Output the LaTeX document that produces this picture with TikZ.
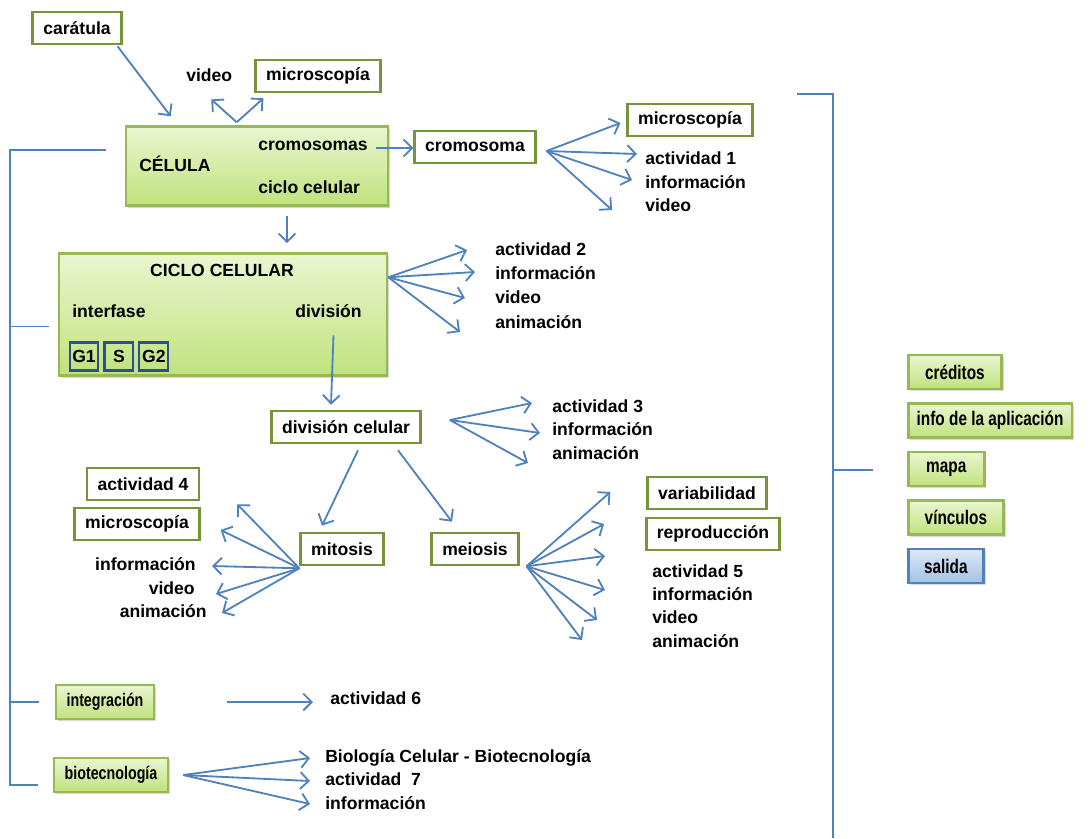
\documentclass[tikz,border=0pt]{standalone}
\usepackage{fontspec}
\setmainfont{Liberation Sans}
\newfontfamily\narrowsans[FakeStretch = 0.78]{Liberation Sans}
\usepackage{tikz}
\usetikzlibrary{
	arrows.meta,
	calc,
	positioning,
	shadows
}

\definecolor{linkgreen}{RGB}{119,147,60}
\definecolor{menugreen}{RGB}{150,185,85}
\definecolor{linkblue}{RGB}{79,129,189}
\definecolor{phaseblue}{RGB}{45,78,145}
\definecolor{greentop}{RGB}{234,246,208}
\definecolor{greenbot}{RGB}{192,226,125}
\definecolor{bluetop}{RGB}{222,233,247}
\definecolor{bluebot}{RGB}{163,192,228}

\begin{document}
\begin{tikzpicture} [
		x = 0.025cm,
		y = -0.025cm,
		font = \fontsize{12.5}{14}\selectfont\bfseries,
		entry/.style = {
			inner sep = 0pt,
			anchor = west,
			text height = 9pt,
			text depth = 2.5pt,
		},
		linkbox/.style = {
			rectangle,
			draw = linkgreen,
			line width = 1.8pt,
			fill = white,
			minimum height = 0.8cm,
			inner xsep = 7.5pt,
		},
		menubox/.style = {
			rectangle,
			draw = menugreen,
			line width = 1.8pt,
			top color = greentop,
			bottom color = greenbot,
			minimum height = 0.85cm,
			inner xsep = 7.5pt,
			font = \narrowsans\fontsize{13}{15}\selectfont\bfseries,
			drop shadow = {opacity = 0.3, shadow xshift = 1.5pt, shadow yshift = -1.5pt},
		},
		sidebox/.style = {
			menubox,
			font = \narrowsans\fontsize{14}{16}\selectfont\bfseries,
			inner xsep = 6pt,
			anchor = west,
		},
		exitbox/.style = {
			sidebox,
			draw = linkblue,
			top color = bluetop,
			bottom color = bluebot,
		},
		phasebox/.style = {
			rectangle,
			draw = phaseblue,
			line width = 1.5pt,
			minimum width = 0.72cm,
			minimum height = 0.7cm,
			inner sep = 1pt,
		},
		conn/.style = {
			draw = linkblue,
			line width = 1.3pt,
			-{Straight Barb[length = 6pt, width = 12pt]},
		},
		bracket/.style = {
			draw = linkblue,
			line width = 1.3pt,
		},
	]
	\useasboundingbox (0,0) rectangle (1090,838);

	% cell
	\node[linkbox] (carat) at (77,28) {carátula};
	\node[entry] (vid0) at (186,77) {video};
	\node[linkbox] (micro0) at (318,76) {microscopía};

	\node[menubox, minimum width = 6.55cm, minimum height = 1.975cm] (celula) at (257,166) {};
	\node[entry] (celname) at (139,167) {CÉLULA};
	\node[entry] (cromos) at (258,146) {cromosomas};
	\node[entry] (ciclotxt) at (258,189) {ciclo celular};

	\node[linkbox] (cromo) at (475,147) {cromosoma};
	\node[linkbox] (micro1) at (690,120) {microscopía};
	\node[entry] (act1) at (645,160) {actividad 1};
	\node[entry] (info1) at (645,184) {información};
	\node[entry] (vid1) at (645,207) {video};

	% cell cycle
	\node[menubox, minimum width = 8.2cm, minimum height = 3.05cm] (ciclo) at (223,314.5) {};
	\node (ciclotitle) at (222,270) {CICLO CELULAR};
	\node[entry] (interf) at (72,313) {interfase};
	\node[entry] (divis) at (295,313) {división};
	\node[phasebox] (g1) at (84,356.5) {G1};
	\node[phasebox, right = 0.1cm of g1] (s) {S};
	\node[phasebox, right = 0.1cm of s] (g2) {G2};

	\node[entry] (act2) at (495,251) {actividad 2};
	\node[entry] (info2) at (495,275) {información};
	\node[entry] (vid2) at (495,299) {video};
	\node[entry] (anim2) at (495,324) {animación};

	% cell division
	\node[linkbox] (divcel) at (346,427) {división celular};
	\node[entry] (act3) at (552,408) {actividad 3};
	\node[entry] (info3) at (552,431) {información};
	\node[entry] (anim3) at (552,455) {animación};

	\node[linkbox] (mitosis) at (342,549) {mitosis};
	\node[linkbox] (meiosis) at (475,549) {meiosis};

	\node[linkbox] (act4) at (143,484) {actividad 4};
	\node[linkbox] (micro4) at (137,524) {microscopía};
	\node[entry, anchor = east] (info4) at (196,566) {información};
	\node[entry, anchor = east] (vid4) at (195,590) {video};
	\node[entry, anchor = east] (anim4) at (207,613) {animación};

	\node[linkbox] (variab) at (707,493) {variabilidad};
	\node[linkbox] (reprod) at (713,534) {reproducción};
	\node[entry] (act5) at (652,573) {actividad 5};
	\node[entry] (info5) at (652,596) {información};
	\node[entry] (vid5) at (652,619) {video};
	\node[entry] (anim5) at (652,643) {animación};

	% integration and biotech
	\node[menubox] (integr) at (105,702) {integración};
	\node[entry] (act6) at (330,700) {actividad 6};

	\node[menubox] (biotec) at (111,775) {biotecnología};
	\node[entry] (bio1) at (325,758) {Biología Celular - Biotecnología};
	\node[entry] (act7) at (325,781) {actividad\ \ 7};
	\node[entry] (info7) at (325,805) {información};

	% side menu
	\node[sidebox, minimum width = 2.33cm] (creditos) at (907,372) {créditos};
	\node[sidebox, below = 0.3cm of creditos.south west, anchor = north west] (infoapp) {info de la aplicación};
	\node[sidebox, minimum width = 1.9cm, below = 0.3cm of infoapp.south west, anchor = north west] (mapa) {mapa};
	\node[sidebox, minimum width = 2.38cm, below = 0.3cm of mapa.south west, anchor = north west] (vinculos) {vínculos};
	\node[exitbox, minimum width = 1.88cm, below = 0.3cm of vinculos.south west, anchor = north west] (salida) {salida};

	\coordinate (celTop) at ($(celula.north west)+(112,-3)$);
	\coordinate (cromoFan) at ($(cromo.east)+(10,4)$);
	\coordinate (cicloFan) at ($(ciclo.north east)+(0,25)$);
	\coordinate (divFan) at ($(divcel.east)+(28,-7)$);
	\coordinate (mitFan) at ($(mitosis.south west)+(0,2)$);
	\coordinate (meiFan) at ($(meiosis.south east)+(7,0)$);
	\coordinate (bioFan) at ($(biotec.east)+(14,0)$);
	\coordinate (menuTop) at (797,94);
	\coordinate (menuEnd) at (833,838);

	\begin{scope} [
			every path/.style = conn
		]
		\path ($(carat.south east)+(-5,1)$) -- ($(celula.north west)+(46,-9)$);
		\path (celTop) -- ($(vid0.south)+(2,14)$);
		\path (celTop) -- ($(micro0.south west)+(9,5)$);

		\path ($(cromos.east)+(8,2)$) -- ($(cromo.west)+(0,1)$);
		\path (cromoFan) -- ($(micro1.west)+(-6,3)$);
		\path (cromoFan) -- ($(act1.west)+(-8,-6)$);
		\path (cromoFan) -- ($(info1.west)+(-13,-4)$);
		\path (cromoFan) -- ($(vid1.west)+(-33,3)$);

		\path ($(celula.south)+(30,9)$) -- ($(ciclo.north)+(64,-9)$);
		\path (cicloFan) -- ($(act2.west)+(-28,-1)$);
		\path (cicloFan) -- ($(info2.west)+(-20,-3)$);
		\path (cicloFan) -- ($(vid2.west)+(-30,-1)$);
		\path (cicloFan) -- ($(anim2.west)+(-35,8)$);

		\path ($(divis.south)+(5,14)$) -- ($(divcel.north)+(-15,-5)$);
		\path (divFan) -- ($(act3.west)+(-20,-5)$);
		\path (divFan) -- ($(info3.west)+(-12,2)$);
		\path (divFan) -- ($(anim3.west)+(-24,8)$);

		\path ($(divcel.south)+(12,6)$) -- ($(mitosis.north)+(-20,-6)$);
		\path ($(divcel.south)+(52,6)$) -- ($(meiosis.north)+(-23,-10)$);

		\path (mitFan) -- ($(act4.south east)+(37,3)$);
		\path (mitFan) -- ($(micro4.east)+(20,6)$);
		\path (mitFan) -- ($(info4.east)+(16,0)$);
		\path (mitFan) -- ($(vid4.east)+(21,4)$);
		\path (mitFan) -- ($(anim4.east)+(15,0)$);

		\path (meiFan) -- ($(variab.west)+(-36,-1)$);
		\path (meiFan) -- ($(reprod.west)+(-41,-10)$);
		\path (meiFan) -- ($(act5.west)+(-47,-17)$);
		\path (meiFan) -- ($(info5.west)+(-47,-6)$);
		\path (meiFan) -- ($(vid5.west)+(-55,1)$);
		\path (meiFan) -- ($(anim5.west)+(-70,-3)$);

		\path ($(integr.east)+(72,0)$) -- ($(act6.west)+(-17,2)$);
		\path (bioFan) -- ($(bio1.west)+(-15,0)$);
		\path (bioFan) -- ($(act7.west)+(-15,0)$);
		\path (bioFan) -- ($(info7.west)+(-15,-1)$);
	\end{scope}

	% menu brackets
	\draw[bracket] ($(celula.west)+(-19,-16)$) -| ($(biotec.west)+(-43,10)$) -- ($(biotec.west)+(-15,10)$);
	\draw[bracket] ($(ciclo.west)+(-9,12)$) -- +(-38,0);
	\draw[bracket] ($(integr.west)+(-16,0)$) -- +(-30,0);
	\draw[bracket] (menuTop) -| (menuEnd);
	\draw[bracket] ($(mapa.west)+(-34,1)$) -- +(-40,0);
\end{tikzpicture}
\end{document}
